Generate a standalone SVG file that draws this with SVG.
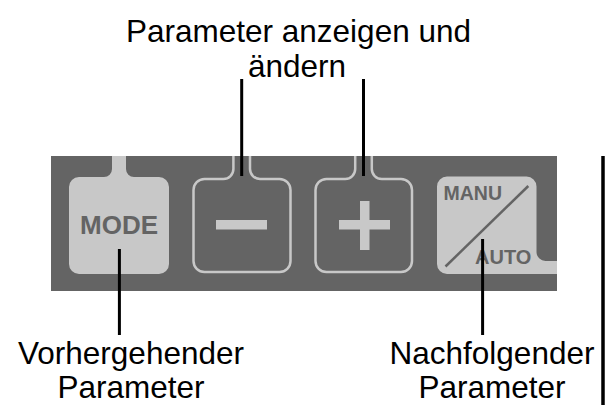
<svg xmlns="http://www.w3.org/2000/svg" width="606" height="405" viewBox="0 0 606 405">
  <style>
    .label { font-family: "Liberation Sans", Arial, sans-serif; font-size: 31.5px; fill: #000; text-anchor: middle; }
    .key { font-family: "Liberation Sans", Arial, sans-serif; font-weight: bold; fill: #646464; }
    .panel { fill: #646464; }
    .pad { fill: #c8c8c8; }
    .outline { fill: none; stroke: #c8c8c8; stroke-width: 2.5; }
    .glyph { fill: #c8c8c8; }
    .lead { stroke: #000; stroke-width: 3; fill: none; }
  </style>

  <rect width="606" height="405" fill="#fff"/>

  <!-- keypad panel -->
  <rect id="panel" class="panel" x="51" y="156" width="506" height="135"/>

  <!-- MODE key: filled pad with stem to the top edge -->
  <g id="key-mode">
    <path class="pad" d="M 112,156 H 126 V 169 A 8 8 0 0 0 134,177 H 159 A 10 10 0 0 1 169,187 V 264 A 10 10 0 0 1 159,274 H 79 A 10 10 0 0 1 69,264 V 187 A 10 10 0 0 1 79,177 H 104 A 8 8 0 0 0 112,169 Z"/>
    <text class="key" x="119" y="234" font-size="26" text-anchor="middle">MODE</text>
  </g>

  <!-- minus key: outlined pad -->
  <g id="key-minus">
    <path class="outline" d="M 233.4,156 V 169 A 10 10 0 0 1 223.4,179 H 204.5 A 11 11 0 0 0 193.5,190 V 261 A 11 11 0 0 0 204.5,272 H 279.5 A 11 11 0 0 0 290.5,261 V 190 A 11 11 0 0 0 279.5,179 H 260 A 10 10 0 0 1 250,169 V 156"/>
    <rect class="glyph" x="216" y="220" width="51" height="9.5"/>
  </g>

  <!-- plus key: outlined pad -->
  <g id="key-plus">
    <path class="outline" d="M 355.2,156 V 169 A 10 10 0 0 1 345.2,179 H 326.5 A 11 11 0 0 0 315.5,190 V 261 A 11 11 0 0 0 326.5,272 H 401 A 11 11 0 0 0 412,261 V 190 A 11 11 0 0 0 401,179 H 381.8 A 10 10 0 0 1 371.8,169 V 156"/>
    <rect class="glyph" x="339" y="220" width="51" height="9.5"/>
    <rect class="glyph" x="360" y="201" width="9.5" height="49"/>
  </g>

  <!-- MANU / AUTO key: filled pad with stem to the right edge -->
  <g id="key-manu-auto">
    <path class="pad" d="M 447,176.5 H 526.5 A 10 10 0 0 1 536.5,186.5 V 252 A 9 9 0 0 0 545.5,261 H 557 V 274 H 447 A 10 10 0 0 1 437,264 V 186.5 A 10 10 0 0 1 447,176.5 Z"/>
    <line x1="445.5" y1="266.5" x2="528.3" y2="186" stroke="#646464" stroke-width="2.5"/>
    <text class="key" x="443.5" y="200" font-size="19.5">MANU</text>
    <text class="key" x="475" y="263.5" font-size="20">AUTO</text>
  </g>

  <!-- labels -->
  <g id="label-top">
    <text class="label" x="298.5" y="42">Parameter anzeigen und</text>
    <text class="label" x="297" y="77">ändern</text>
  </g>
  <g id="label-prev">
    <text class="label" x="131" y="364">Vorhergehender</text>
    <text class="label" x="131" y="398">Parameter</text>
  </g>
  <g id="label-next">
    <text class="label" x="492" y="364">Nachfolgender</text>
    <text class="label" x="492" y="398">Parameter</text>
  </g>

  <!-- leader lines -->
  <g id="connectors">
    <line class="lead" x1="241.7" y1="79" x2="241.7" y2="176"/>
    <line class="lead" x1="363.5" y1="79" x2="363.5" y2="176"/>
    <line class="lead" x1="119.4" y1="249" x2="119.4" y2="335"/>
    <line class="lead" x1="482.6" y1="239" x2="482.6" y2="335"/>
  </g>

  <!-- right border -->
  <line x1="603" y1="156" x2="603" y2="405" stroke="#000" stroke-width="3.5"/>
</svg>
